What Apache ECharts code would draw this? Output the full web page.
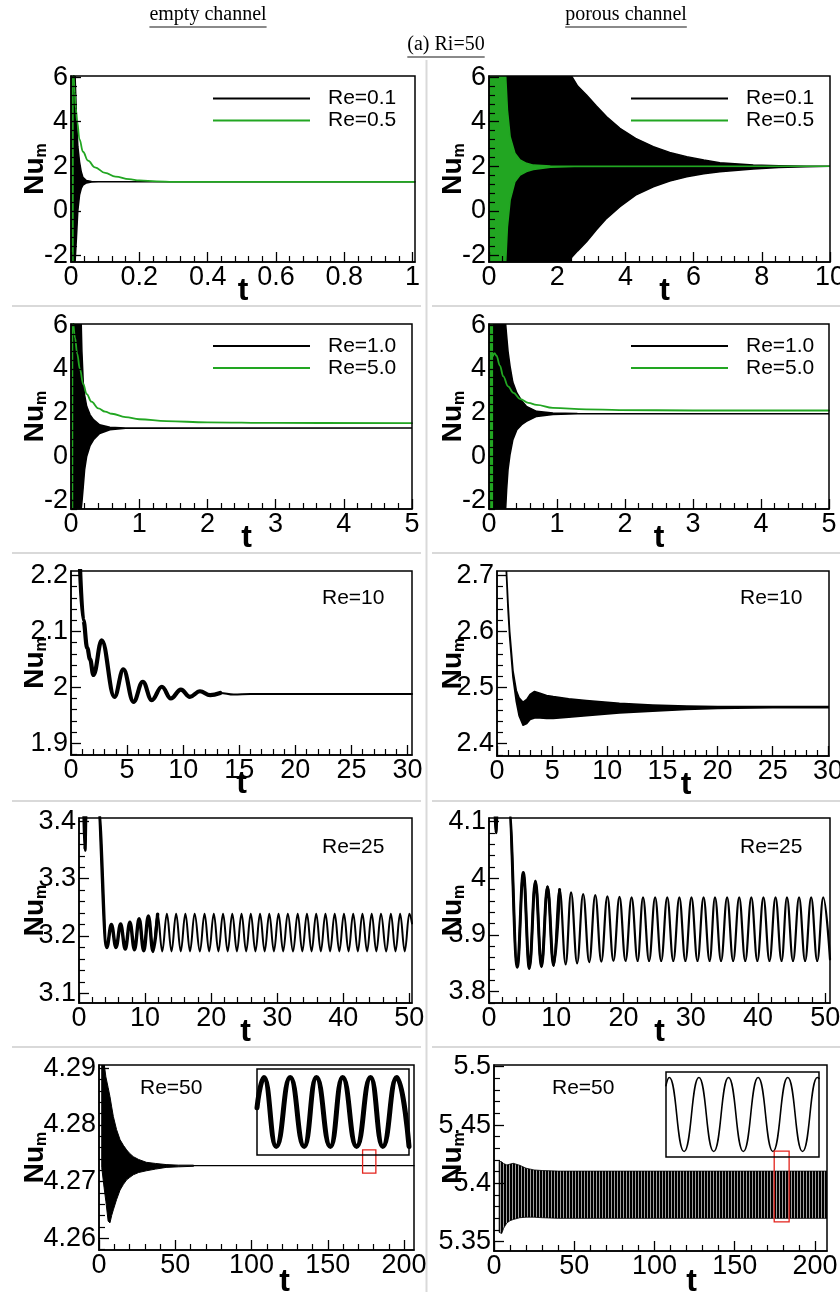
<!DOCTYPE html>
<html>
<head>
<meta charset="utf-8">
<title>Nu_m histories, Ri=50</title>
<script src="https://cdn.jsdelivr.net/npm/echarts@6.0.0/dist/echarts.min.js"></script>
<style>
html, body { margin: 0; padding: 0; background: #ffffff; }
#chart { width: 840px; height: 1292px; }
</style>
</head>
<body>
<div id="chart"></div>
<script>
// Mean Nusselt number Nu_m(t) at Ri = 50, empty channel vs porous channel.
// Oscillations too fast to resolve are stored as envelopes [t, lower, upper];
// resolved oscillations are stored as turning points [t, Nu_m].

// ---------- Re = 0.1 / 0.5 ----------
const emptyRe01Band = [[0,-2.3,6.05],[0.012,-2.3,6.05],[0.016,-1.2,4.2],[0.02,0.0,2.9],[0.025,0.7,2.2],[0.03,1.0,1.75],[0.035,1.15,1.5],[0.045,1.25,1.36],[0.06,1.29,1.31],[0.08,1.3,1.3],[1.007,1.3,1.3]];
const emptyRe05Band = [[0,-2.3,6.05],[0.008,-2.3,6.05]];
const emptyRe05 = [[0.008,6.1],[0.011,5.3],[0.014,4.6],[0.018,4.0],[0.025,3.2],[0.035,2.65],[0.05,2.25],[0.07,1.95],[0.1,1.7],[0.13,1.53],[0.17,1.42],[0.2,1.36],[0.25,1.32],[0.3,1.3],[0.4,1.3],[1.007,1.3]];
const porousRe01Band = [[0,-2.3,6.05],[2.38,-2.3,6.05],[2.42,-2.1,6.05],[2.6,-1.8,5.6],[2.86,-1.39,5.2],[3.15,-0.85,4.7],[3.45,-0.34,4.22],[3.84,0.18,3.7],[4.3,0.7,3.25],[4.82,1.08,2.88],[5.3,1.33,2.62],[5.8,1.53,2.43],[6.3,1.66,2.28],[6.77,1.75,2.16],[7.75,1.87,2.05],[8.5,1.94,2.02],[9.3,1.98,2.0],[10,2.0,2.0]];
const porousRe05Band = [[0,-2.3,6.05],[0.49,-2.3,6.05],[0.54,-0.72,4.53],[0.62,0.48,3.33],[0.76,1.3,2.58],[0.91,1.6,2.28],[1.1,1.76,2.13],[1.3,1.85,2.05],[1.8,1.95,2.01],[2.5,1.99,2.0],[10,2.0,2.0]];

// ---------- Re = 1.0 / 5.0 ----------
const emptyRe1Band = [[0,-2.4,6.05],[0.15,-2.4,6.05],[0.16,-2.1,4.8],[0.18,-1.37,3.36],[0.2,-0.6,2.8],[0.23,0.0,2.29],[0.28,0.5,1.9],[0.33,0.76,1.68],[0.42,1.05,1.45],[0.57,1.22,1.33],[0.8,1.29,1.3],[5,1.3,1.3]];
const emptyRe5Band = [[0,-2.4,6.05],[0.033,-2.4,6.05]];
const emptyRe5 = [[0.035,6.1],[0.06,5.4],[0.09,4.7],[0.13,4.0],[0.18,3.3],[0.23,2.85],[0.3,2.5],[0.4,2.2],[0.5,2.05],[0.6,1.95],[0.8,1.8],[1.0,1.7],[1.4,1.61],[2.0,1.56],[3.0,1.53],[5.0,1.52]];
const porousRe1Band = [[0,-2.4,6.05],[0.245,-2.4,6.05],[0.26,-1.5,5.5],[0.28,-0.6,4.8],[0.31,0.1,4.12],[0.35,0.75,3.4],[0.41,1.22,2.9],[0.48,1.45,2.55],[0.55,1.6,2.29],[0.7,1.83,2.06],[0.94,1.92,1.99],[1.3,1.95,1.96],[5,1.95,1.95]];
const porousRe5Band = [[0,-2.4,6.05],[0.06,-2.4,6.05]];
const porousRe5 = [[0.06,4.6],[0.08,4.72],[0.11,4.6],[0.16,4.15],[0.21,3.66],[0.28,3.2],[0.36,2.9],[0.46,2.62],[0.58,2.45],[0.7,2.36],[0.94,2.22],[1.43,2.15],[1.92,2.12],[3,2.1],[5,2.1]];

// ---------- Re = 10 ----------
const emptyRe10 = [[0.8,2.215],[1.1,2.12],[1.45,2.07],[1.7,2.05],[2.0,2.022],[2.74,2.084],[3.87,1.983],[4.67,2.032],[5.57,1.974],[6.4,2.01],[7.2,1.977],[8.1,2.001],[8.9,1.98],[9.8,1.996],[10.6,1.983],[11.5,1.993],[12.4,1.986],[13.3,1.99],[14.5,1.987],[16,1.988],[20,1.988],[30.4,1.988]];
const porousRe10Band = [[0.85,2.705,2.712],[1.0,2.64,2.65],[1.15,2.59,2.6],[1.45,2.518,2.53],[1.75,2.475,2.495],[2.0,2.45,2.482],[2.36,2.433,2.474],[2.7,2.436,2.479],[3.0,2.443,2.488],[3.4,2.446,2.493],[3.9,2.446,2.490],[4.5,2.445,2.486],[5.1,2.445,2.484],[6.5,2.447,2.480],[8.1,2.450,2.477],[11.1,2.455,2.472],[14.1,2.458,2.469],[17.2,2.461,2.467],[20,2.463,2.466],[25,2.464,2.466],[30.1,2.464,2.466]];

// ---------- Re = 25 ----------
const emptyRe25 = [
  [0.75,3.42],[0.9,3.35],[1.05,3.42],[2.9,3.42],
  [4.2,3.180],[4.9,3.220],[5.6,3.180],[6.3,3.221],[7.0,3.177],[7.7,3.224],[8.4,3.176],[9.1,3.230],[9.8,3.174],[10.5,3.235],[11.2,3.173],[11.9,3.238],[12.6,3.173],[13.3,3.239],
  [14.0,3.173],[14.7,3.239],[15.4,3.173],[16.1,3.239],[16.8,3.173],[17.5,3.239],[18.3,3.173],[19.0,3.239],[19.7,3.173],[20.4,3.239],
  [21.1,3.173],[21.8,3.239],[22.5,3.173],[23.2,3.239],[23.9,3.173],[24.6,3.239],[25.3,3.173],[26.0,3.239],[26.7,3.173],[27.4,3.239],
  [28.1,3.173],[28.8,3.239],[29.5,3.173],[30.2,3.239],[30.9,3.173],[31.6,3.239],[32.4,3.173],[33.1,3.239],[33.8,3.173],[34.5,3.239],
  [35.2,3.173],[35.9,3.239],[36.6,3.173],[37.3,3.239],[38.0,3.173],[38.7,3.239],[39.4,3.173],[40.1,3.239],[40.8,3.173],[41.5,3.239],
  [42.2,3.173],[42.9,3.239],[43.6,3.173],[44.3,3.239],[45.0,3.173],[45.7,3.239],[46.5,3.173],[47.2,3.239],[47.9,3.173],[48.6,3.239],
  [49.3,3.173],[50.0,3.239],[50.4,3.222]
];
const porousRe25 = [
  [0.9,4.115],[1.04,4.08],[1.2,4.115],[3.0,4.115],
  [4.2,3.843],[5.1,4.010],[6.0,3.841],[6.9,3.995],[7.8,3.844],[8.7,3.985],[9.6,3.846],[10.5,3.980],[11.4,3.848],[12.2,3.975],
  [13.1,3.850],[14.0,3.972],[14.9,3.852],[15.8,3.970],[16.7,3.853],[17.6,3.968],[18.5,3.854],[19.4,3.967],[20.3,3.854],[21.2,3.966],
  [22.1,3.854],[22.9,3.966],[23.8,3.854],[24.7,3.966],[25.6,3.854],[26.5,3.966],[27.4,3.854],[28.3,3.966],[29.2,3.854],[30.1,3.966],
  [31.0,3.854],[31.9,3.966],[32.8,3.854],[33.6,3.966],[34.5,3.854],[35.4,3.966],[36.3,3.854],[37.2,3.966],[38.1,3.854],[39.0,3.966],
  [39.9,3.854],[40.8,3.966],[41.7,3.854],[42.6,3.966],[43.5,3.854],[44.3,3.966],[45.2,3.854],[46.1,3.966],[47.0,3.854],[47.9,3.966],
  [48.8,3.854],[49.7,3.966],[50.7,3.857]
];

// ---------- Re = 50 ----------
const emptyRe50Band = [[1.8,4.2725,4.2915],[3.3,4.2690,4.2910],[4.5,4.2665,4.2885],[6.0,4.2630,4.2866],[7.2,4.2627,4.2850],[8.3,4.2640,4.2832],[9.4,4.2650,4.2815],[11.5,4.2668,4.2792],[13.8,4.2685,4.2774],[16,4.2695,4.2764],[18.1,4.2703,4.2756],[20,4.2707,4.2750],[22.5,4.2712,4.2744],[26,4.2716,4.2739],[31,4.2719,4.2734],[37,4.2722,4.2732],[44,4.2725,4.2730],[52,4.2726,4.2729],[62,4.2727,4.2729]];
const emptyRe50Settled = [[62,4.2728],[206.5,4.2728]];
const porousRe50Band = [[3.2,5.358,5.419],[4.8,5.357,5.4185],[6.0,5.3615,5.417],[8.0,5.366,5.4158],[10,5.368,5.4165],[12,5.369,5.4172],[16,5.3705,5.4155],[20,5.371,5.413],[25,5.371,5.4115],[30,5.3705,5.411],[40,5.370,5.4105],[207.5,5.370,5.4105]];
// magnified windows (t range, Nu range) and the signal inside them
const emptyZoomBox = {t: [172.8, 181.5], nu: [4.2715, 4.2756]};
const porousZoomBox = {t: [174.6, 183.9], nu: [5.367, 5.4277]};
const emptyZoomNu = [4.2727, 4.2729];
const porousZoomNu = [5.367, 5.4135];
const emptyRe50Zoom = [[172.8,4.27281],[173.2,4.27288],[173.9,4.27272],[174.7,4.27288],[175.5,4.27272],[176.2,4.27288],[177.0,4.27272],[177.7,4.27288],[178.5,4.27272],[179.3,4.27288],[180.0,4.27272],[180.8,4.27288],[181.5,4.27272]];
const porousRe50Zoom = [[174.6,5.406],[174.8,5.4105],[175.7,5.370],[176.6,5.4105],[177.5,5.370],[178.4,5.4105],[179.3,5.370],[180.2,5.4105],[181.1,5.370],[182.0,5.4105],[182.9,5.370],[183.8,5.4105],[183.9,5.410]];

// ---------- tick labels ----------
const ticksT1 = [0, 0.2, 0.4, 0.6, 0.8, 1];
const ticksT10 = [0, 2, 4, 6, 8, 10];
const ticksT5 = [0, 1, 2, 3, 4, 5];
const ticksT30 = [0, 5, 10, 15, 20, 25, 30];
const ticksT50 = [0, 10, 20, 30, 40, 50];
const ticksT200 = [0, 50, 100, 150, 200];
const ticksNuLow = [-2, 0, 2, 4, 6];
const ticksNuE10 = [1.9, 2, 2.1, 2.2];
const ticksNuP10 = [2.4, 2.5, 2.6, 2.7];
const ticksNuE25 = [3.1, 3.2, 3.3, 3.4];
const ticksNuP25 = [3.8, 3.9, 4, 4.1];
const ticksNuE50 = [4.26, 4.27, 4.28, 4.29];
const ticksNuP50 = [5.35, 5.4, 5.45, 5.5];

// ---------- styling / layout ----------
const FONT = '"Liberation Sans", Arial, Helvetica, sans-serif';
const SERIF = '"Liberation Serif", "Times New Roman", serif';
const BLACK = '#000000', GREEN = '#22a622', RED = '#e3231c', RULE = '#d9d9d9';

const panels = [
  {box: [71, 76, 344, 186],   t: [0, 1.007],  nu: [-2.3, 6.05],     tt: ticksT1,   nt: ticksNuLow, nameX: 49.5},
  {box: [489, 76, 341, 186],  t: [0, 10],     nu: [-2.3, 6.05],     tt: ticksT10,  nt: ticksNuLow, nameX: 467.5, tShift: 5},
  {box: [71, 324, 341, 185],  t: [0, 5],      nu: [-2.4, 6.05],     tt: ticksT5,   nt: ticksNuLow, nameX: 49.5, tShift: 5},
  {box: [489, 324, 340, 185], t: [0, 5],      nu: [-2.4, 6.05],     tt: ticksT5,   nt: ticksNuLow, nameX: 467.5},
  {box: [71, 571, 341, 184],  t: [0, 30.4],   nu: [1.879, 2.208],   tt: ticksT30,  nt: ticksNuE10, nameX: 49.5},
  {box: [497, 571, 332, 185], t: [0, 30.1],   nu: [2.378, 2.708],   tt: ticksT30,  nt: ticksNuP10, nameX: 467.5, tShift: 23},
  {box: [79, 818, 333, 185],  t: [0, 50.4],   nu: [3.083, 3.406],   tt: ticksT50,  nt: ticksNuE25, nameX: 49.5},
  {box: [489, 818, 341, 185], t: [0, 50.7],   nu: [3.78, 4.106],    tt: ticksT50,  nt: ticksNuP25, nameX: 467.5},
  {box: [99, 1065, 315, 185], t: [0, 206.5],  nu: [4.2579, 4.2906], tt: ticksT200, nt: ticksNuE50, nameX: 49.5, tShift: 28, tGap: 16},
  {box: [494, 1065, 333, 186],t: [0, 207.5],  nu: [5.342, 5.5015],  tt: ticksT200, nt: ticksNuP50, nameX: 467.5, tShift: 31, tGap: 15}
];
const insets = [
  {box: [257, 1069, 152, 86], t: emptyZoomBox.t, nu: emptyZoomNu},
  {box: [666, 1072, 153, 85], t: porousZoomBox.t, nu: porousZoomNu}
];

const grid = [], xAxis = [], yAxis = [], axes = [];

// minor tick positions: every major step split in 5
function minorTicks(major, lo, hi) {
  const step = major[1] - major[0], sub = step / 5, out = [];
  const first = major[0] - step, last = major[major.length - 1] + step;
  for (let k = 0; first + k * sub <= last + 1e-9; k++) {
    const v = +(first + k * sub).toFixed(8);
    const isMajor = major.some(m => Math.abs(m - v) < sub * 1e-3);
    if (!isMajor && v >= lo - 1e-9 && v <= hi + 1e-9) out.push(v);
  }
  return out;
}

function addPanel(p) {
  const gi = grid.length;
  grid.push({left: p.box[0], top: p.box[1], width: p.box[2], height: p.box[3], show: true, z: 6,
    borderColor: BLACK, borderWidth: 1.5, backgroundColor: 'rgba(0,0,0,0)', containLabel: false, outerBoundsMode: 'none'});
  const base = {type: 'value', gridIndex: gi, z: 6, silent: true, splitLine: {show: false}, nameMoveOverlap: false};
  const xi = xAxis.length;
  xAxis.push(Object.assign({}, base, {
    position: 'bottom', min: p.t[0], max: p.t[1],
    axisLine: {show: true, onZero: false, lineStyle: {color: BLACK, width: 1.5}},
    axisTick: {show: true, inside: true, length: 10, customValues: p.tt, lineStyle: {color: BLACK, width: 1.3}},
    axisLabel: {show: true, customValues: p.tt, margin: 2, fontSize: 27, fontFamily: FONT, color: BLACK},
    name: 't', nameLocation: 'middle', nameGap: p.tGap || 13,
    nameTextStyle: {fontSize: 32, fontWeight: 'bold', fontFamily: FONT, color: BLACK, padding: [0, 0, 0, 2 * (p.tShift || 0)]}
  }));
  xAxis.push(Object.assign({}, base, {
    position: 'bottom', min: p.t[0], max: p.t[1],
    axisLine: {show: false, onZero: false},
    axisTick: {show: true, inside: true, length: 6, customValues: minorTicks(p.tt, p.t[0], p.t[1]), lineStyle: {color: BLACK, width: 1.2}},
    axisLabel: {show: false}
  }));
  const yi = yAxis.length;
  yAxis.push(Object.assign({}, base, {
    position: 'left', min: p.nu[0], max: p.nu[1],
    axisLine: {show: true, onZero: false, lineStyle: {color: BLACK, width: 1.5}},
    axisTick: {show: true, inside: true, length: 10, customValues: p.nt, lineStyle: {color: BLACK, width: 1.3}},
    axisLabel: {show: true, customValues: p.nt, margin: 3, fontSize: 27, fontFamily: FONT, color: BLACK},
    name: '{a|Nu}{b|m}', nameLocation: 'middle', nameRotate: 90, nameGap: p.box[0] - p.nameX,
    nameTextStyle: {rich: {
      a: {fontSize: 28, fontWeight: 'bold', fontFamily: FONT, color: BLACK, lineHeight: 28, verticalAlign: 'top'},
      b: {fontSize: 16, fontWeight: 'bold', fontFamily: FONT, color: BLACK, lineHeight: 16, verticalAlign: 'bottom', padding: [26, 0, 0, 0]}
    }}
  }));
  yAxis.push(Object.assign({}, base, {
    position: 'left', min: p.nu[0], max: p.nu[1],
    axisLine: {show: false, onZero: false},
    axisTick: {show: true, inside: true, length: 6, customValues: minorTicks(p.nt, p.nu[0], p.nu[1]), lineStyle: {color: BLACK, width: 1.2}},
    axisLabel: {show: false}
  }));
  axes.push({x: xi, y: yi});
}

function addInset(p) {
  const gi = grid.length;
  grid.push({left: p.box[0], top: p.box[1], width: p.box[2], height: p.box[3], show: true, z: 6,
    borderColor: BLACK, borderWidth: 1.5, backgroundColor: 'rgba(0,0,0,0)', containLabel: false, outerBoundsMode: 'none'});
  const xi = xAxis.length, yi = yAxis.length;
  xAxis.push({type: 'value', gridIndex: gi, show: false, min: p.t[0], max: p.t[1], splitLine: {show: false}});
  yAxis.push({type: 'value', gridIndex: gi, show: false, min: p.nu[0], max: p.nu[1], splitLine: {show: false}});
  axes.push({x: xi, y: yi});
}

panels.forEach(addPanel);
insets.forEach(addInset);

// filled envelope between lower and upper bounds
function bandSeries(pi, name, color, rows, strokeW, fill) {
  const a = axes[pi];
  return {
    type: 'custom', name: name, coordinateSystem: 'cartesian2d', xAxisIndex: a.x, yAxisIndex: a.y,
    clip: true, silent: true, animation: false, color: color, itemStyle: {color: color}, z: 2,
    data: [[rows[0][0], rows[0][1]]], encode: {x: 0, y: 1},
    renderItem: function (params, api) {
      const upper = rows.map(r => api.coord([r[0], r[2]]));
      const lower = rows.map(r => api.coord([r[0], r[1]])).reverse();
      const cs = params.coordSys;
      return {
        type: 'polygon', shape: {points: upper.concat(lower)},
        style: {fill: fill || color, stroke: color, lineWidth: strokeW, lineJoin: 'round'},
        clipPath: {type: 'rect', shape: {x: cs.x, y: cs.y, width: cs.width, height: cs.height}}
      };
    }
  };
}

function lineSeries(pi, name, color, pts, width, smooth) {
  const a = axes[pi];
  return {
    type: 'line', name: name, xAxisIndex: a.x, yAxisIndex: a.y, data: pts, color: color,
    symbol: 'none', showSymbol: false, smooth: smooth == null ? 0.4 : smooth, smoothMonotone: 'x',
    lineStyle: {color: color, width: width, join: 'round', cap: 'round'},
    clip: true, silent: true, animation: false, z: 3
  };
}

// red frame marking the magnified window
function zoomBoxSeries(pi, box) {
  const a = axes[pi];
  return {
    type: 'custom', coordinateSystem: 'cartesian2d', xAxisIndex: a.x, yAxisIndex: a.y,
    silent: true, animation: false, z: 5, data: [[box.t[0], box.nu[0]]], encode: {x: 0, y: 1},
    renderItem: function (params, api) {
      const p0 = api.coord([box.t[0], box.nu[1]]);
      const p1 = api.coord([box.t[1], box.nu[0]]);
      return {type: 'rect', shape: {x: p0[0], y: p0[1], width: p1[0] - p0[0], height: p1[1] - p0[1]},
        style: {fill: 'none', stroke: RED, lineWidth: 1.3}};
    }
  };
}

// fine vertical hatching for the unresolved oscillation band
function hatch() {
  const c = document.createElement('canvas');
  c.width = 3; c.height = 2;
  const g = c.getContext('2d');
  g.fillStyle = '#000000'; g.fillRect(0, 0, 2, 2);
  g.fillStyle = '#a0a0a0'; g.fillRect(2, 0, 1, 2);
  return {image: c, repeat: 'repeat'};
}

const upTo = (pts, tMax) => pts.filter(p => p[0] <= tMax);

const series = [
  // Re = 0.1 / 0.5
  bandSeries(0, 'Re=0.1', BLACK, emptyRe01Band, 1.5),
  bandSeries(0, null, GREEN, emptyRe05Band, 0),
  lineSeries(0, 'Re=0.5', GREEN, emptyRe05, 1.8),
  bandSeries(1, 'Re=0.1', BLACK, porousRe01Band, 1.5),
  bandSeries(1, 'Re=0.5', GREEN, porousRe05Band, 1.5),
  // Re = 1.0 / 5.0
  bandSeries(2, 'Re=1.0', BLACK, emptyRe1Band, 1.5),
  bandSeries(2, null, GREEN, emptyRe5Band, 0),
  lineSeries(2, 'Re=5.0', GREEN, emptyRe5, 1.8),
  bandSeries(3, 'Re=1.0', BLACK, porousRe1Band, 1.5),
  bandSeries(3, null, GREEN, porousRe5Band, 0),
  lineSeries(3, 'Re=5.0', GREEN, porousRe5, 1.8),
  // Re = 10
  lineSeries(4, null, BLACK, emptyRe10, 2),
  lineSeries(4, null, BLACK, upTo(emptyRe10, 13.3), 4.2),
  bandSeries(5, null, BLACK, porousRe10Band, 1.6),
  // Re = 25
  lineSeries(6, null, BLACK, emptyRe25, 2),
  lineSeries(6, null, BLACK, upTo(emptyRe25, 11.9), 3.4),
  lineSeries(7, null, BLACK, porousRe25, 2.2),
  lineSeries(7, null, BLACK, upTo(porousRe25, 10.5), 3),
  // Re = 50
  bandSeries(8, null, BLACK, emptyRe50Band, 1),
  lineSeries(8, null, BLACK, emptyRe50Settled, 1.3, false),
  zoomBoxSeries(8, emptyZoomBox),
  bandSeries(9, null, BLACK, porousRe50Band, 0.8, hatch()),
  zoomBoxSeries(9, porousZoomBox),
  lineSeries(10, null, BLACK, emptyRe50Zoom, 5, 0.5),
  lineSeries(11, null, BLACK, porousRe50Zoom, 1.6, 0.5)
];

// ---------- legends ----------
const legendBase = {
  orient: 'vertical', icon: 'rect', itemWidth: 97, itemHeight: 2, itemGap: 1, padding: 0,
  selectedMode: false, textStyle: {fontSize: 21, fontFamily: FONT, color: BLACK, lineHeight: 17, padding: [0, 0, 0, 13]}
};
const legend = [
  Object.assign({}, legendBase, {data: ['Re=0.1', 'Re=0.5'], left: 213, top: 88}),
  Object.assign({}, legendBase, {data: ['Re=0.1', 'Re=0.5'], left: 631, top: 88}),
  Object.assign({}, legendBase, {data: ['Re=1.0', 'Re=5.0'], left: 213, top: 335.5}),
  Object.assign({}, legendBase, {data: ['Re=1.0', 'Re=5.0'], left: 631, top: 335.5})
];

// ---------- headings, rules and Re tags ----------
const graphic = [];
const measure = document.createElement('canvas').getContext('2d');
function heading(text, cx, cy) {
  const font = '20px ' + SERIF;
  measure.font = font;
  const w = measure.measureText(text).width;
  graphic.push({type: 'text', x: cx, y: cy, silent: true,
    style: {text: text, font: font, fill: BLACK, align: 'center', verticalAlign: 'middle', textAlign: 'center', textVerticalAlign: 'middle'}});
  graphic.push({type: 'line', silent: true, shape: {x1: cx - w / 2, y1: cy + 12, x2: cx + w / 2, y2: cy + 12},
    style: {stroke: '#8a8a8a', lineWidth: 1.8}});
}
heading('empty channel', 208, 15);
heading('porous channel', 626, 15);
heading('(a) Ri=50', 446, 45);

graphic.push({type: 'line', silent: true, shape: {x1: 426.5, y1: 60, x2: 426.5, y2: 1292}, style: {stroke: RULE, lineWidth: 2}});
[306, 553, 801, 1047].forEach(function (y) {
  graphic.push({type: 'line', silent: true, shape: {x1: 12, y1: y, x2: 421, y2: y}, style: {stroke: RULE, lineWidth: 2}});
  graphic.push({type: 'line', silent: true, shape: {x1: 432, y1: y, x2: 840, y2: y}, style: {stroke: RULE, lineWidth: 2}});
});

const reTags = [
  {text: 'Re=10', x: 322, y: 598}, {text: 'Re=10', x: 740, y: 598},
  {text: 'Re=25', x: 322, y: 847}, {text: 'Re=25', x: 740, y: 847},
  {text: 'Re=50', x: 140, y: 1088}, {text: 'Re=50', x: 552, y: 1088}
];
reTags.forEach(function (r) {
  graphic.push({type: 'text', x: r.x, y: r.y, silent: true, z: 10,
    style: {text: r.text, font: '21px ' + FONT, fill: BLACK, align: 'left', verticalAlign: 'middle', textAlign: 'left', textVerticalAlign: 'middle'}});
});

const chart = echarts.init(document.getElementById('chart'), null, {renderer: 'canvas'});
chart.setOption({
  animation: false,
  backgroundColor: '#ffffff',
  grid: grid, xAxis: xAxis, yAxis: yAxis,
  legend: legend, series: series, graphic: graphic
});
</script>
</body>
</html>
